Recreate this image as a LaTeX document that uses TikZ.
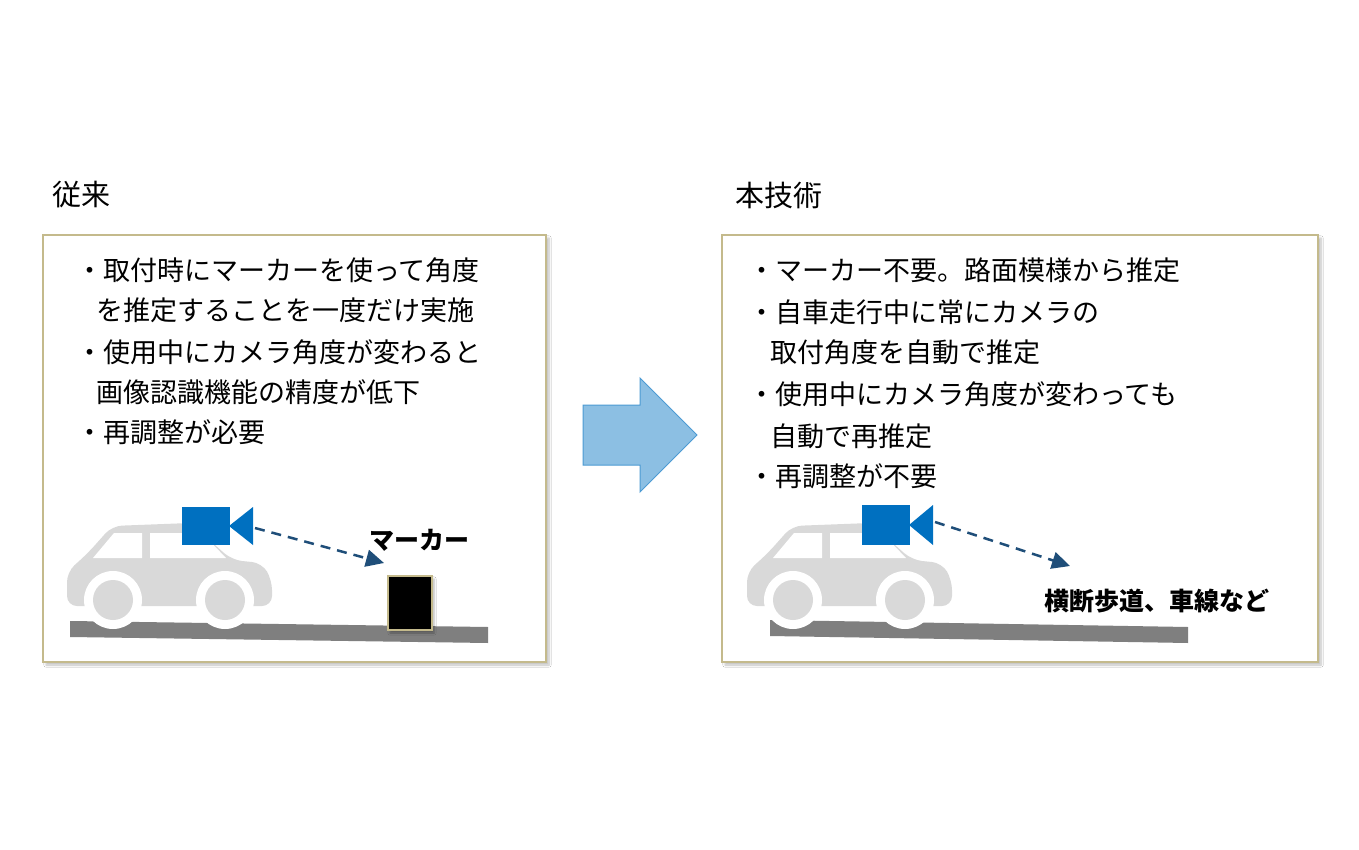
\documentclass[tikz,border=0pt]{standalone}
\usepackage{fontspec}
\setmainfont{Noto Sans CJK JP}
\usetikzlibrary{arrows.meta,shadows.blur}
\definecolor{frame}{HTML}{C4BA8C}
\definecolor{cam}{HTML}{0070C0}
\definecolor{arr}{HTML}{1F4E79}
\definecolor{carg}{HTML}{D9D9D9}
\definecolor{roadg}{HTML}{7F7F7F}
\tikzset{
 panel/.style={draw=frame,line width=2.5pt,fill=white,blur shadow={shadow xshift=3pt,shadow yshift=-3pt,shadow blur steps=6,shadow opacity=25}},
 txt/.style={anchor=west,inner sep=0,font=\fontsize{27}{30}\selectfont},
 title/.style={anchor=west,inner sep=0,font=\fontsize{29}{32}\selectfont},
 lbl/.style={inner sep=0,font=\fontsize{25}{28}\selectfont\bfseries},
 ray/.style={arr,line width=2.5pt,dash pattern=on 10pt off 7pt,-{Triangle[length=18pt,width=17pt]}}
}
\newcommand{\car}[1]{%
 \begin{scope}[xshift=#1]
 \fill[carg,rounded corners=10pt] (67,606) -- (67,572) -- (88,553) -- (112,526) -- (190,523) -- (232,560) -- (262,563) -- (272,580) -- (272,606) -- cycle;
 \fill[white] (93,558) -- (114,533) -- (142,533) -- (142,558) -- cycle;
 \fill[white] (150,533) -- (202,533) -- (226,558) -- (150,558) -- cycle;
 \fill[white] (113,600) circle (29); \fill[white] (225,600) circle (29);
 \fill[carg] (113,600) circle (20); \fill[carg] (225,600) circle (20);
 \end{scope}}
\begin{document}
\begin{tikzpicture}[x=1pt,y=-1pt]
\useasboundingbox (0,0) rectangle (1359,850);
\fill[white] (0,0) rectangle (1359,850);
\node[title] (t1) at (52,195) {従来};
\node[title] (t2) at (735,195) {本技術};
\draw[panel] (43,235) rectangle (546,662);
\draw[panel] (722,235) rectangle (1318,662);
% left text
\node[txt] (l1) at (76,270) {・取付時にマーカーを使って角度};
\node[txt] (l2) at (96,310) {を推定することを一度だけ実施};
\node[txt] (l3) at (76,352) {・使用中にカメラ角度が変わると};
\node[txt] (l4) at (96,392) {画像認識機能の精度が低下};
\node[txt] (l5) at (76,432) {・再調整が必要};
% right text
\node[txt] (r1) at (748,270) {・マーカー不要。路面模様から推定};
\node[txt] (r2) at (748,312) {・自車走行中に常にカメラの};
\node[txt] (r3) at (770,352) {取付角度を自動で推定};
\node[txt] (r4) at (748,394) {・使用中にカメラ角度が変わっても};
\node[txt] (r5) at (770,436) {自動で再推定};
\node[txt] (r6) at (748,476) {・再調整が不要};
% big arrow
\draw[draw=cam!70,fill=cam!45!white,line width=1pt] (583,405) -- (640,405) -- (640,378) -- (697,435) -- (640,492) -- (640,465) -- (583,465) -- cycle;
% left scene
\fill[roadg] (70,621) -- (488,627) -- (488,643) -- (70,637) -- cycle;
\car{0}
\fill[cam] (182,507) rectangle (230,545);
\fill[cam] (229,526) -- (253,507) -- (253,545) -- cycle;
\coordinate (c1) at (255,528);
\coordinate (e1) at (384,563);
\draw[ray] (c1) -- (e1);
\node[draw=frame,line width=2pt,fill=black,minimum width=44pt,minimum height=54pt,inner sep=0,blur shadow={shadow xshift=2pt,shadow yshift=-3pt,shadow opacity=30}] (mk) at (410,603) {};
\node[lbl] (ml) at (419,540) {マーカー};
% right scene
\fill[roadg] (770,620) -- (1188,627) -- (1188,643) -- (770,636) -- cycle;
\car{680}
\fill[cam] (862,505) rectangle (910,545);
\fill[cam] (909,525) -- (933,505) -- (933,545) -- cycle;
\coordinate (c2) at (935,522);
\coordinate (e2) at (1070,566);
\draw[ray] (c2) -- (e2);
\node[lbl] (rl) at (1157,601) {横断歩道、車線など};
\end{tikzpicture}
\end{document}
